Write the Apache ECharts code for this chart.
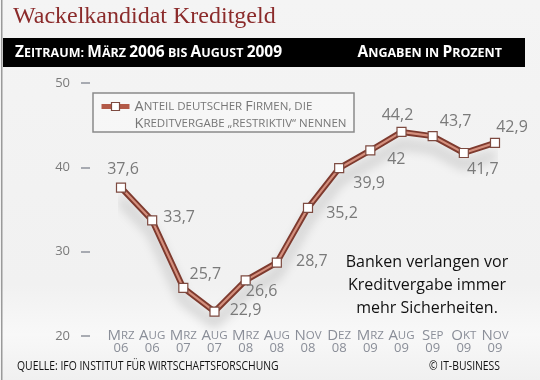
<!DOCTYPE html>
<html><head><meta charset="utf-8">
<script src="https://cdn.jsdelivr.net/npm/echarts@6/dist/echarts.min.js"></script>
<style>html,body{margin:0;padding:0;background:#f3f3f3}#c{width:540px;height:380px}</style>
</head><body><div id="c"></div>
<script>
const months = ['Mrz','Aug','Mrz','Aug','Mrz','Aug','Nov','Dez','Mrz','Aug','Sep','Okt','Nov'];
const years = ['06','06','07','07','08','08','08','08','09','09','09','09','09'];
const values = [37.6,33.7,25.7,22.9,26.6,28.7,35.2,39.9,42,44.2,43.7,41.7,42.9];
const yMin = 20, yMax = 50, yStep = 10;
const categories = months.map((m,i)=>m+' '+years[i]);
const seriesName = 'Anteil deutscher Firmen, die\nKreditvergabe „restriktiv“ nennen';
const labelOffsets = [[2,-18],[27,-3],[22,-13],[31,-1],[16,11],[35,-1],[34,6],[30,15],[26,9],[-4,-16],[23,-15],[19,16],[17,-15]];

const FONT = 'Open Sans';
function smallCaps(text, big, small){
  let out = '', cur = null, buf = '';
  for (const ch of text){
    const isBig = /[A-ZÄÖÜ0-9]/.test(ch);
    const t = isBig ? big : small;
    if (t !== cur){ if (buf) out += '{'+cur+'|'+buf+'}'; buf=''; cur=t; }
    buf += ch.toUpperCase();
  }
  if (buf) out += '{'+cur+'|'+buf+'}';
  return out;
}

const chart = echarts.init(document.getElementById('c'), null, {renderer:'canvas'});
const data = values.map((v,i)=>({value:v, label:{offset:labelOffsets[i]}}));

chart.setOption({
  backgroundColor: {
    type:'linear', x:0, y:0, x2:0, y2:1,
    colorStops:[{offset:0,color:'#f4f4f4'},{offset:0.75,color:'#f1f1f1'},{offset:0.88,color:'#f8f8f8'},{offset:1,color:'#f0f0f0'}]
  },
  animation:false,
  textStyle:{fontFamily:FONT},
  grid:{left:121, right:45, top:83, bottom:44},
  legend:{
    data:[seriesName],
    left:99, top:99, padding:0,
    itemWidth:28, itemHeight:10, itemGap:0,
    lineStyle:{color:'#b35a48', width:5},
    itemStyle:{color:'#fff', borderColor:'#7d4a40', borderWidth:1.2},
    formatter: function(n){ return n.split('\n').map(l=>smallCaps(l,'B','s')).join('\n'); },
    textStyle:{
      padding:[17,0,0,0],
      rich:{
        B:{fontFamily:FONT, fontSize:14.5, color:'#777', lineHeight:17},
        s:{fontFamily:FONT, fontSize:11.5, color:'#777', lineHeight:17}
      }
    }
  },
  xAxis:{
    type:'category', data:categories, boundaryGap:false,
    axisLine:{show:false}, axisTick:{show:false},
    axisLabel:{
      interval:0, margin:-7,
      formatter:function(v){ const p=v.split(' '); return smallCaps(p[0],'B','s')+'\n{y|'+p[1]+'}'; },
      rich:{
        B:{fontFamily:FONT, fontSize:15, color:'#8a8e98', lineHeight:13},
        s:{fontFamily:FONT, fontSize:11.5, color:'#8a8e98', lineHeight:13},
        y:{fontFamily:FONT, fontSize:13, color:'#8a8e98', lineHeight:13}
      }
    }
  },
  yAxis:{
    type:'value', min:yMin, max:yMax, interval:yStep, offset:31,
    splitLine:{show:false},
    axisLine:{show:false},
    axisTick:{show:true, length:9, lineStyle:{color:'#8f929c', width:1.5}},
    axisLabel:{margin:20, color:'#7a7a7a', fontSize:13, fontFamily:FONT}
  },
  series:[
    {
      name:'outline', type:'line', data:values, symbol:'none', silent:true,
      lineStyle:{color:'#7e3a2e', width:6, shadowColor:'rgba(0,0,0,0.22)', shadowBlur:12, shadowOffsetY:12},
      z:2
    },
    {
      name:seriesName, type:'line', data:data,
      symbol:'rect', symbolSize:9, showAllSymbol:true,
      itemStyle:{color:'#ffffff', borderColor:'#7d4a40', borderWidth:1.2},
      lineStyle:{color:'#d48f7d', width:2.2},
      label:{show:true, position:'inside', color:'#7a7a7a', fontSize:16, fontFamily:FONT,
        formatter:function(p){ return String(p.value).replace('.',','); }},
      z:3
    }
  ],
  graphic:[
    {type:'rect', shape:{x:1,y:0,width:1.5,height:380}, style:{fill:'#9a9a9a'}, silent:true},
    {type:'text', x:13, y:5, style:{text:'Wackelkandidat Kreditgeld', font:'24px "Liberation Serif"', fill:'#8b2b2b'}},
    {type:'rect', shape:{x:3,y:38,width:522,height:29}, style:{fill:'#000'}},
    {type:'text', x:15, y:53, style:{text:smallCaps('Zeitraum: März 2006 bis August 2009','B','s'), verticalAlign:'middle',
      rich:{B:{fontFamily:FONT,fontWeight:'bold',fontSize:15.5,fill:'#fff'},s:{fontFamily:FONT,fontWeight:'bold',fontSize:12.5,fill:'#fff'}}}},
    {type:'text', x:502, y:53, style:{text:smallCaps('Angaben in Prozent','B','s'), verticalAlign:'middle', align:'right',
      rich:{B:{fontFamily:FONT,fontWeight:'bold',fontSize:15.5,fill:'#fff'},s:{fontFamily:FONT,fontWeight:'bold',fontSize:12.5,fill:'#fff'}}}},
    {type:'rect', shape:{x:93,y:93,width:261,height:39}, style:{fill:'rgba(255,255,255,0.35)', stroke:'#8a8a8a', lineWidth:1.5}, z:-1},
    {type:'text', x:427, y:251, style:{text:'Banken verlangen vor\nKreditvergabe immer\nmehr Sicherheiten.', align:'center', font:'16px "Open Sans"', lineHeight:23, fill:'#111'}},
    {type:'text', x:17, y:366, scaleX:0.83, style:{text:'QUELLE: IFO INSTITUT FÜR WIRTSCHAFTSFORSCHUNG', verticalAlign:'middle', font:'12.5px "Open Sans"', fill:'#111'}},
    {type:'text', x:500, y:366, scaleX:0.83, style:{text:'© IT-BUSINESS', verticalAlign:'middle', align:'right', font:'12.5px "Open Sans"', fill:'#111'}}
  ]
});
</script></body></html>
